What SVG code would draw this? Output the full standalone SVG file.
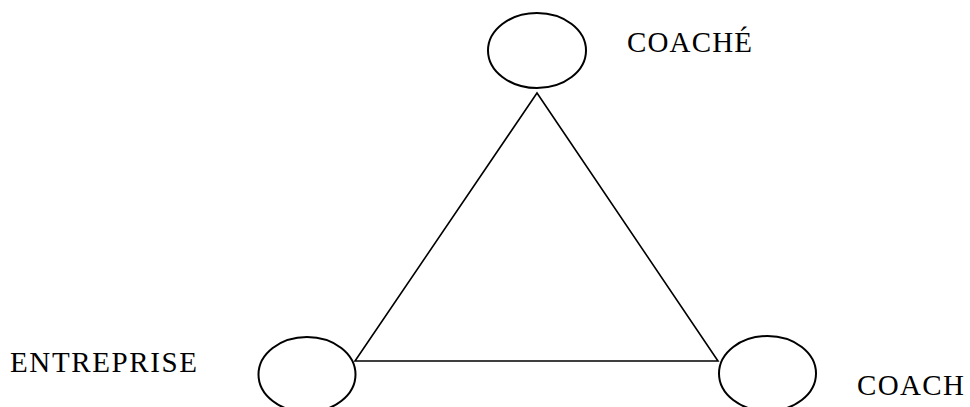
<svg xmlns="http://www.w3.org/2000/svg" width="970" height="407" viewBox="0 0 970 407">
<style>
.node{fill:none;stroke:#000;stroke-width:2}
.edge{fill:none;stroke:#000;stroke-width:1.6}
.lbl{font-family:"Liberation Serif","Times New Roman",serif;font-size:29px;fill:#000}
</style>
<rect width="970" height="407" fill="#fff"/>
<g id="connectors">
<polygon class="edge" points="537,93 355,361 718,361"/>
</g>
<g id="coache">
<ellipse class="node" cx="537" cy="50.5" rx="49" ry="37.5"/>
<text class="lbl" x="627" y="52" textLength="125" lengthAdjust="spacing">COACHÉ</text>
</g>
<g id="entreprise">
<ellipse class="node" cx="307" cy="374.5" rx="48.5" ry="37.5"/>
<text class="lbl" x="10" y="372" textLength="187" lengthAdjust="spacing">ENTREPRISE</text>
</g>
<g id="coach">
<ellipse class="node" cx="767.5" cy="373.5" rx="48.5" ry="37.5"/>
<text class="lbl" x="857" y="395" textLength="107" lengthAdjust="spacing">COACH</text>
</g>
</svg>
